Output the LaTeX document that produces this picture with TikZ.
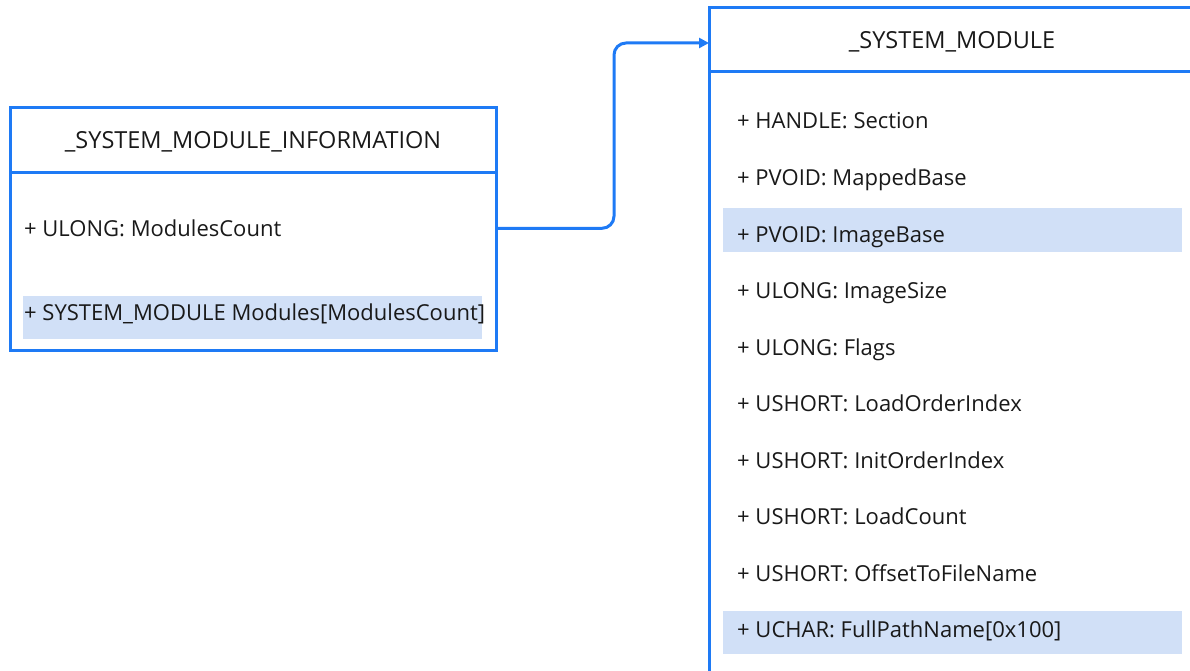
\documentclass[tikz,border=0pt]{standalone}
\usepackage{fontspec}
\setmainfont{Open Sans}
\usetikzlibrary{arrows.meta,positioning,calc}
\definecolor{umlblue}{RGB}{30,122,245}
\definecolor{rowblue}{RGB}{209,224,247}
\definecolor{ink}{RGB}{25,25,25}

\begin{document}
\begin{tikzpicture}[x=1pt,y=-1pt,
        every node/.style={font=\fontsize{22}{26}\selectfont,text=ink},
        box/.style={draw=umlblue,line width=3pt,minimum width=486pt,inner sep=0pt,outer sep=0pt},
        headbox/.style={box,minimum height=65pt,text height=16.5pt,text depth=0pt,font=\fontsize{23.5}{28}\selectfont},
        rowfill/.style={fill=rowblue,minimum width=459pt,minimum height=44pt,inner sep=0pt},
        row/.style={anchor=base west,inner sep=0pt},
        link/.style={-{Triangle[length=10pt,width=10pt]},draw=umlblue,line width=3pt,rounded corners=12pt}]
        \useasboundingbox (0,0) rectangle (1190,671);
        \clip (0,0) rectangle (1190,671);
        % _SYSTEM_MODULE_INFORMATION
        \node[headbox] (infohead) at (253,140.5) {\_SYSTEM\_MODULE\_INFORMATION};
        \node[box,minimum height=177pt] (infobody) [below=0pt of infohead] {};
        \node[rowfill,minimum height=43pt] (modsbg) at (252.5,317.5) {};
        \node[row] (count) at (24,236.5) {+ ULONG: ModulesCount};
        \node[row] (mods) at (24,320) {+ SYSTEM\_MODULE Modules[ModulesCount]};
        % _SYSTEM_MODULE
        \node[headbox,minimum height=64pt] (modhead) at (952,40) {\_SYSTEM\_MODULE};
        \node[box,minimum height=640pt] (modbody) [below=0pt of modhead] {};
        \node[rowfill] (imgbg) at (952.5,229.5) {};
        \node[rowfill,minimum height=43pt] (pathbg) at (952.5,632.5) {};
        \node[row] (sect) at (737,129) {+ HANDLE: Section};
        \node[row] (mapped) at (737,185.5) {+ PVOID: MappedBase};
        \node[row] (imgbase) at (737,242) {+ PVOID: ImageBase};
        \node[row] (imgsize) at (737,298.5) {+ ULONG: ImageSize};
        \node[row] (flags) at (737,355) {+ ULONG: Flags};
        \node[row] (loadord) at (737,411.5) {+ USHORT: LoadOrderIndex};
        \node[row] (initord) at (737,468) {+ USHORT: InitOrderIndex};
        \node[row] (loadcnt) at (737,524.5) {+ USHORT: LoadCount};
        \node[row] (offset) at (737,581) {+ USHORT: OffsetToFileName};
        \node[row] (fullpath) at (737,637.5) {+ UCHAR: FullPathName[0x100]};
        % array element type
        \coordinate (bend) at (614,120);
        \draw[link] (infobody.east |- count) -| (bend) |- ([yshift=-3pt]modhead.west);
      \end{tikzpicture}
\end{document}
